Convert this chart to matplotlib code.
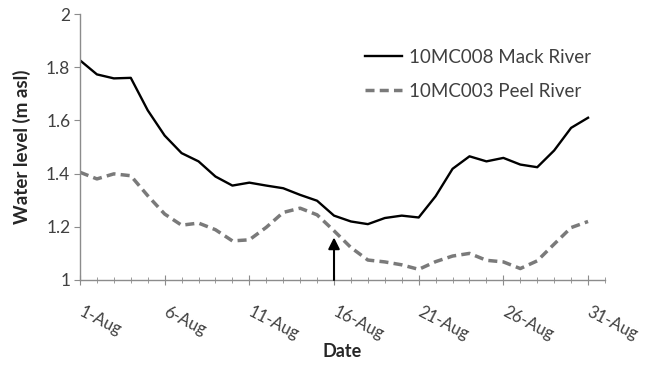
import numpy as np
import matplotlib.pyplot as plt

plt.rcParams['font.family'] = ['Lato', 'DejaVu Sans']

# Daily water levels, 1-Aug to 31-Aug (m asl)
days = np.arange(31)
mack = [1.826, 1.773, 1.758, 1.760, 1.638, 1.543, 1.477, 1.446, 1.389, 1.355,
        1.366, 1.355, 1.345, 1.320, 1.298, 1.242, 1.220, 1.210, 1.233, 1.242,
        1.235, 1.315, 1.418, 1.465, 1.446, 1.459, 1.434, 1.424, 1.487, 1.572,
        1.610]
peel = [1.405, 1.380, 1.399, 1.392, 1.317, 1.248, 1.206, 1.214, 1.189, 1.147,
        1.151, 1.198, 1.254, 1.270, 1.245, 1.185, 1.122, 1.075, 1.068, 1.057,
        1.040, 1.069, 1.090, 1.100, 1.074, 1.068, 1.043, 1.072, 1.135, 1.197,
        1.220]

tick_days = [0, 5, 10, 15, 20, 25, 30]
tick_labels = ['1-Aug', '6-Aug', '11-Aug', '16-Aug', '21-Aug', '26-Aug', '31-Aug']
y_ticks = [1, 1.2, 1.4, 1.6, 1.8, 2]
y_labels = ['1', '1.2', '1.4', '1.6', '1.8', '2']

# arrow marking 16-Aug
arrow_day = 15
arrow_top = 1.16

axis_col = '#8c8c8c'
text_col = '#404040'

fig = plt.figure(figsize=(6.46, 3.65), dpi=100)
ax = fig.add_axes([0.1238, 0.2329, 0.8127, 0.7287])

ax.plot(days, mack, color='black', lw=1.7, label='10MC008 Mack River')
ax.plot(days, peel, color='#7a7a7a', lw=2.5, linestyle=(0, (2.6, 1.5)),
        label='10MC003 Peel River')

ax.annotate('', xy=(arrow_day, arrow_top), xytext=(arrow_day, 1.0),
            arrowprops=dict(arrowstyle='-|>', color='black', lw=1.5,
                            mutation_scale=17, shrinkA=0, shrinkB=0))

ax.set_xlim(0, 31)
ax.set_ylim(1, 2)
ax.set_xticks(tick_days)
ax.set_xticks(np.arange(32), minor=True)
ax.set_xticklabels(tick_labels, rotation=-27, ha='left', va='center',
                   rotation_mode='anchor', fontsize=12, color=text_col)
ax.set_yticks(y_ticks)
ax.set_yticklabels(y_labels, fontsize=12.5, color=text_col)

for s in ['top', 'right']:
    ax.spines[s].set_visible(False)
for s in ['left', 'bottom']:
    ax.spines[s].set_color(axis_col)
    ax.spines[s].set_linewidth(1.0)

ax.tick_params(axis='x', which='major', direction='inout', length=7,
               color=axis_col, pad=19)
ax.tick_params(axis='x', which='minor', direction='inout', length=4,
               color=axis_col)
ax.tick_params(axis='y', which='major', direction='out', length=4,
               color=axis_col, pad=3)

ax.set_ylabel('Water level (m asl)', fontsize=13.5, fontweight='bold',
              color='#262626', labelpad=11)
ax.set_xlabel('Date', fontsize=13, fontweight='bold', color='#262626',
              labelpad=0)

leg = ax.legend(loc='upper left', bbox_to_anchor=(0.51, 0.933), frameon=False,
                fontsize=13.5, handlelength=2.0, handletextpad=0.35,
                labelspacing=0.9, labelcolor=text_col)

fig.savefig('out.png', dpi=100)
